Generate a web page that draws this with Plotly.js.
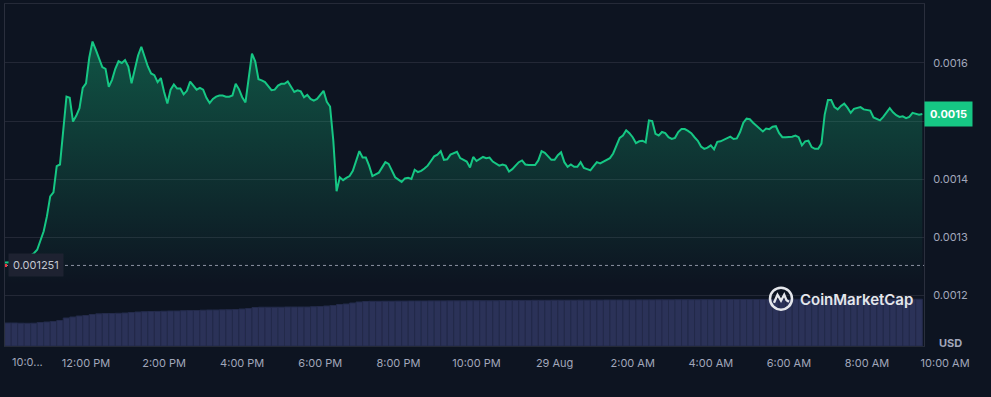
<!DOCTYPE html>
<html>
<head>
<meta charset="utf-8">
<script src="https://cdn.plot.ly/plotly-3.0.1.min.js"></script>
<style>
html,body{margin:0;padding:0;background:#0d1421;}
#chart{width:991px;height:397px;}
</style>
</head>
<body>
<div id="chart"></div>
<script>
// ---- data ----
const priceStart = '2023-08-28 09:55';   // first price sample, 5-minute steps
const priceStepMin = 5;
const price = [
0.001256,0.001256,0.001256,0.001256,0.001256,0.001256,0.001257,0.001262,0.001268,0.001272,
0.001278,0.001294,0.001310,0.001336,0.001370,0.001377,0.001422,0.001425,0.001485,0.001542,
0.001540,0.001499,0.001509,0.001522,0.001557,0.001565,0.001609,0.001637,0.001623,0.001609,
0.001593,0.001590,0.001559,0.001571,0.001590,0.001603,0.001600,0.001605,0.001594,0.001565,
0.001591,0.001613,0.001628,0.001609,0.001594,0.001582,0.001579,0.001567,0.001574,0.001550,
0.001530,0.001554,0.001563,0.001556,0.001556,0.001546,0.001552,0.001568,0.001561,0.001554,
0.001557,0.001554,0.001540,0.001531,0.001538,0.001542,0.001544,0.001544,0.001542,0.001542,
0.001544,0.001564,0.001555,0.001541,0.001532,0.001577,0.001616,0.001603,0.001572,0.001570,
0.001567,0.001560,0.001553,0.001554,0.001561,0.001564,0.001564,0.001568,0.001559,0.001550,
0.001553,0.001551,0.001541,0.001545,0.001538,0.001535,0.001538,0.001546,0.001552,0.001533,
0.001525,0.001466,0.001379,0.001403,0.001398,0.001402,0.001405,0.001414,0.001433,0.001448,
0.001437,0.001437,0.001423,0.001405,0.001408,0.001411,0.001420,0.001429,0.001426,0.001413,
0.001403,0.001399,0.001395,0.001401,0.001402,0.001400,0.001416,0.001412,0.001414,0.001418,
0.001423,0.001431,0.001439,0.001442,0.001448,0.001433,0.001434,0.001442,0.001445,0.001447,
0.001436,0.001433,0.001430,0.001420,0.001438,0.001431,0.001434,0.001438,0.001436,0.001437,
0.001430,0.001427,0.001423,0.001425,0.001423,0.001413,0.001417,0.001423,0.001429,0.001432,
0.001425,0.001424,0.001424,0.001424,0.001432,0.001448,0.001445,0.001439,0.001433,0.001433,
0.001441,0.001446,0.001429,0.001421,0.001425,0.001421,0.001421,0.001429,0.001419,0.001417,
0.001415,0.001422,0.001429,0.001427,0.001430,0.001433,0.001436,0.001444,0.001458,0.001471,
0.001475,0.001484,0.001479,0.001472,0.001462,0.001465,0.001466,0.001463,0.001501,0.001500,
0.001478,0.001475,0.001481,0.001479,0.001472,0.001469,0.001471,0.001481,0.001486,0.001486,
0.001483,0.001479,0.001472,0.001466,0.001456,0.001452,0.001454,0.001458,0.001451,0.001464,
0.001465,0.001468,0.001471,0.001473,0.001469,0.001470,0.001481,0.001497,0.001504,0.001503,
0.001497,0.001492,0.001486,0.001482,0.001487,0.001486,0.001490,0.001491,0.001479,0.001472,
0.001472,0.001472,0.001473,0.001475,0.001472,0.001458,0.001465,0.001466,0.001455,0.001452,
0.001452,0.001461,0.001511,0.001536,0.001536,0.001524,0.001520,0.001526,0.001530,0.001523,
0.001514,0.001521,0.001522,0.001524,0.001520,0.001519,0.001518,0.001506,0.001503,0.001501,
0.001507,0.001515,0.001522,0.001515,0.001510,0.001507,0.001508,0.001505,0.001507,0.001514,
0.001512,0.001511,0.001512
];
const volStart = '2023-08-28 10:00';      // volume bars, 10-minute steps
const volStepMin = 10;
const volume = [
23.0,23.0,22.8,22.7,22.8,23.5,24.0,24.5,25.5,28.0,
29.0,30.0,30.5,31.5,32.2,32.5,32.5,32.7,33.0,33.5,
34.0,34.3,34.5,34.6,34.8,35.0,35.0,35.3,35.5,35.5,
35.8,36.0,36.0,36.2,36.3,36.5,37.0,37.5,38.5,38.8,
38.8,38.8,38.8,39.0,39.0,39.0,39.0,39.3,39.5,40.0,
40.5,41.5,42.0,43.0,44.0,44.5,44.7,44.7,44.8,44.8,
44.9,44.9,45.0,45.0,45.0,45.1,45.1,45.1,45.2,45.2,
45.2,45.3,45.3,45.3,45.3,45.3,45.5,45.5,45.6,45.6,
45.6,45.7,45.7,45.7,45.8,45.8,45.8,45.8,45.9,45.9,
45.9,45.9,46.0,46.0,46.0,46.0,46.0,46.1,46.1,46.1,
46.2,46.2,46.2,46.3,46.3,46.3,46.3,46.4,46.4,46.4,
46.4,46.5,46.5,46.5,46.5,46.5,46.6,46.6,46.6,46.6,
46.6,46.7,46.7,46.7,46.7,46.7,46.7,46.8,46.8,46.8,
46.8,46.8,46.8,46.8,46.8,46.8,46.8,46.8,46.8,46.8,
46.8
];
const openPrice = 0.001251;
const priceTicks = [0.0012, 0.0013, 0.0014, 0.0015, 0.0016];
// the 0.0015 grid label sits under the last-price badge, as in the reference
const priceTickText = ['0.0012','0.0013','0.0014','','0.0016'];
const timeTicks = ['2023-08-28 12:00','2023-08-28 14:00','2023-08-28 16:00','2023-08-28 18:00',
  '2023-08-28 20:00','2023-08-28 22:00','2023-08-29 00:00','2023-08-29 02:00',
  '2023-08-29 04:00','2023-08-29 06:00','2023-08-29 08:00','2023-08-29 10:00'];
const timeTickText = ['12:00 PM','2:00 PM','4:00 PM','6:00 PM','8:00 PM','10:00 PM','29 Aug',
  '2:00 AM','4:00 AM','6:00 AM','8:00 AM','10:00 AM'];
const firstLabel = '10:0...';

// ---- helpers ----
function pad(n){return (n<10?'0':'')+n;}
function series(startStr, stepMin, n){
  const p = startStr.split(/[- :]/).map(Number);
  const t0 = Date.UTC(p[0], p[1]-1, p[2], p[3], p[4]);
  const out = [];
  for (let i=0;i<n;i++){
    const d = new Date(t0 + i*stepMin*60000);
    out.push(d.getUTCFullYear()+'-'+pad(d.getUTCMonth()+1)+'-'+pad(d.getUTCDate())+' '+pad(d.getUTCHours())+':'+pad(d.getUTCMinutes())+':'+pad(d.getUTCSeconds()));
  }
  return out;
}
const priceTime = series(priceStart, priceStepMin, price.length);
const volTime = series(volStart, volStepMin, volume.length);
const lastPrice = price[price.length-1];

const bg = '#0d1421';
const grid = '#232836';
const tickCol = '#a1a7bb';
const green = '#16c784';

const traces = [
  {
    type:'scatter', mode:'lines', x: priceTime, y: price,
    xaxis:'x', yaxis:'y',
    line:{color: green, width: 2},
    fill:'tozeroy',
    fillgradient:{type:'vertical', start:0.00122, stop:0.00164,
      colorscale:[[0,'rgba(22,199,132,0)'],[1,'rgba(22,199,132,0.36)']]},
    hoverinfo:'skip'
  },
  {
    type:'bar', x: volTime, y: volume, xaxis:'x2', yaxis:'y2',
    marker:{color:'#2b3258', line:{color:'#232a4a', width:1}},
    hoverinfo:'skip'
  }
];

const W = 981; // plot width in px (991 - margins)
const layout = {
  width: 991, height: 397,
  margin:{l:5, r:5, t:4, b:51, pad:0},
  paper_bgcolor: bg, plot_bgcolor:'rgba(0,0,0,0)',
  showlegend:false,
  bargap:0,
  font:{family:'Inter, "Open Sans", sans-serif', color: tickCol, size:11},
  xaxis:{
    domain:[0, 919/W], type:'date', anchor:'y',
    range:['2023-08-28 09:55:32','2023-08-29 09:27:36'],
    showgrid:false, zeroline:false, showticklabels:false, ticks:'',
    showline:true, mirror:true, linecolor:'#252a38', linewidth:1
  },
  yaxis:{
    domain:[0,1], anchor:'x', side:'right',
    range:[0.0011121, 0.0017017],
    tickvals: priceTicks, ticktext: priceTickText,
    showgrid:true, gridcolor: grid, gridwidth:1, zeroline:false,
    showline:true, mirror:true, linecolor:'#2a2f3d', linewidth:1,
    ticks:'outside', ticklen:6, tickcolor:'rgba(0,0,0,0)',
    tickfont:{color: tickCol, size:11}
  },
  xaxis2:{
    domain:[0,1], type:'date', anchor:'y2',
    range:['2023-08-28 09:55:32','2023-08-29 11:02:50'],
    tickvals: timeTicks, ticktext: timeTickText,
    showgrid:false, zeroline:false, showline:false,
    ticks:'outside', ticklen:7, tickcolor:'rgba(0,0,0,0)',
    tickfont:{color: tickCol, size:11}
  },
  yaxis2:{
    domain:[0, 100/342], anchor:'x2', range:[0,100], visible:false, fixedrange:true
  },
  shapes:[
    {type:'line', xref:'x domain', x0:0, x1:1, yref:'y', y0:openPrice, y1:openPrice,
     line:{color:'#8c92a3', width:1, dash:'dot'}, layer:'above'},
    {type:'line', xref:'paper', x0:0, x1:2/W, yref:'y', y0:openPrice, y1:openPrice,
     line:{color:'#ea3943', width:3}, layer:'above'},
    // CoinMarketCap logo mark
    {type:'circle', xref:'paper', xsizemode:'pixel', xanchor:(781-5)/W, x0:-11, x1:11,
     yref:'paper', ysizemode:'pixel', yanchor:(346-298.7)/342, y0:-11, y1:11,
     line:{color:'#e4e6eb', width:2.5}, layer:'above'},
    {type:'path', xref:'paper', xsizemode:'pixel', xanchor:(781-5)/W,
     yref:'paper', ysizemode:'pixel', yanchor:(346-298.7)/342,
     path:'M -7 -4 L -3.5 4 L 0 -2 L 3.2 4 L 5.5 -1.5 L 8 -3',
     line:{color:'#e4e6eb', width:2.3}, layer:'above'}
  ],
  annotations:[
    {xref:'paper', x:3/W, xanchor:'left', yref:'y', y:openPrice, yanchor:'middle',
     text: String(openPrice), showarrow:false, bgcolor:'#1e2231', borderpad:4,
     font:{color:'#c3c7d1', size:11}},
    {xref:'paper', x:919/W, xanchor:'left', yref:'y', y:lastPrice, yanchor:'middle',
     text:'<b>'+lastPrice.toFixed(4)+'</b>', showarrow:false, bgcolor:green, borderpad:5,
     font:{color:'#ffffff', size:11}},
    {xref:'paper', x:(950-5)/W, xanchor:'center', yref:'paper', y:(346-343)/342, yanchor:'middle',
     text:'<b>USD</b>', showarrow:false, font:{color:tickCol, size:11}},
    {xref:'paper', x:(10-5)/W, xanchor:'left', yref:'paper', y:(346-362)/342, yanchor:'middle',
     text:firstLabel, showarrow:false, font:{color:tickCol, size:11}},
    {xref:'paper', x:(798-5)/W, xanchor:'left', yref:'paper', y:(346-299)/342, yanchor:'middle',
     text:'CoinMarketCap', showarrow:false, font:{color:'#e4e6eb', size:15, weight:600}}
  ]
};

Plotly.newPlot('chart', traces, layout, {staticPlot:true, displayModeBar:false});
</script>
</body>
</html>
